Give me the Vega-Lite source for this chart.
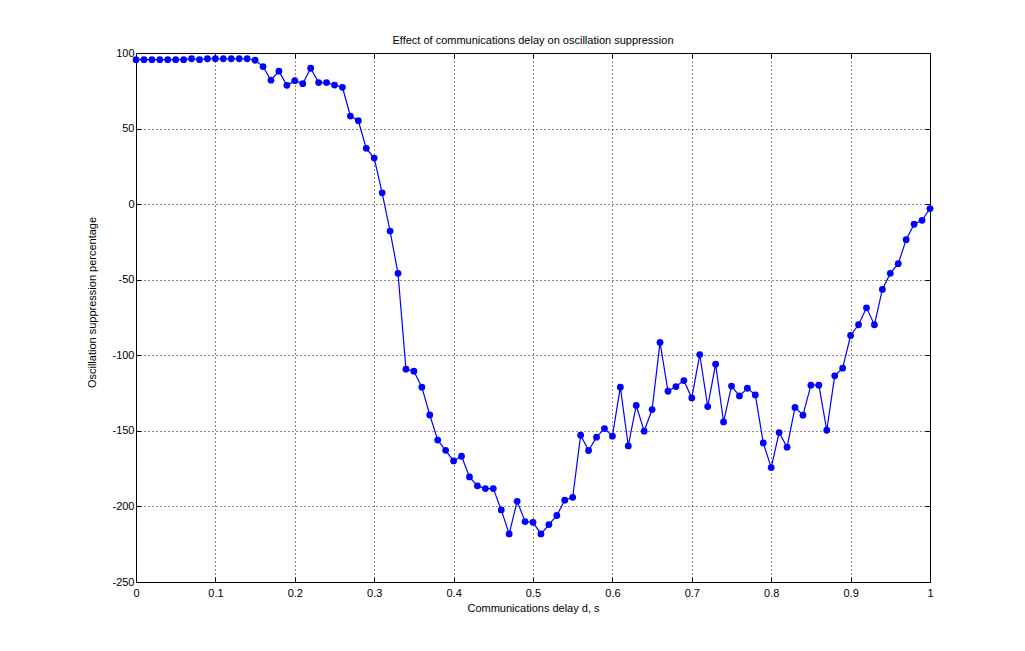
{
  "$schema": "https://vega.github.io/schema/vega-lite/v6.json",
  "width": 794,
  "height": 529,
  "autosize": {"type": "none"},
  "padding": {"left": 136, "top": 53, "right": 95, "bottom": 69},
  "background": "white",
  "title": {
    "text": "Effect of communications delay on oscillation suppression",
    "font": "Liberation Sans",
    "fontSize": 11,
    "fontWeight": "normal",
    "color": "black",
    "anchor": "middle",
    "offset": 1
  },
  "config": {
    "view": {"stroke": "black", "strokeWidth": 1},
    "axis": {
      "domainColor": "black",
      "domainWidth": 1,
      "tickColor": "black",
      "tickWidth": 1,
      "tickSize": -5,
      "labelFont": "Liberation Sans",
      "labelFontSize": 11,
      "labelColor": "black",
      "titleFont": "Liberation Sans",
      "titleFontSize": 11,
      "titleFontWeight": "normal",
      "titleColor": "black",
      "gridColor": "black",
      "gridDash": [1, 3],
      "gridOpacity": 0.9,
      "gridWidth": 1
    }
  },
  "data": {
    "values": [
      {"d": 0.00, "pct": 95.6}, {"d": 0.01, "pct": 95.6}, {"d": 0.02, "pct": 95.6},
      {"d": 0.03, "pct": 95.6}, {"d": 0.04, "pct": 95.6}, {"d": 0.05, "pct": 95.6},
      {"d": 0.06, "pct": 95.6}, {"d": 0.07, "pct": 96.2}, {"d": 0.08, "pct": 95.6},
      {"d": 0.09, "pct": 96.2}, {"d": 0.10, "pct": 96.2}, {"d": 0.11, "pct": 96.2},
      {"d": 0.12, "pct": 96.2}, {"d": 0.13, "pct": 96.2}, {"d": 0.14, "pct": 96.2},
      {"d": 0.15, "pct": 95.2}, {"d": 0.16, "pct": 91.0}, {"d": 0.17, "pct": 82.0},
      {"d": 0.18, "pct": 88.0}, {"d": 0.19, "pct": 78.6}, {"d": 0.20, "pct": 81.7},
      {"d": 0.21, "pct": 79.7}, {"d": 0.22, "pct": 89.9}, {"d": 0.23, "pct": 80.4},
      {"d": 0.24, "pct": 80.4}, {"d": 0.25, "pct": 78.8}, {"d": 0.26, "pct": 77.3},
      {"d": 0.27, "pct": 58.3}, {"d": 0.28, "pct": 55.2}, {"d": 0.29, "pct": 36.9},
      {"d": 0.30, "pct": 30.5}, {"d": 0.31, "pct": 7.5}, {"d": 0.32, "pct": -17.8},
      {"d": 0.33, "pct": -45.8}, {"d": 0.34, "pct": -109.2}, {"d": 0.35, "pct": -110.5},
      {"d": 0.36, "pct": -121.1}, {"d": 0.37, "pct": -139.5}, {"d": 0.38, "pct": -156.1},
      {"d": 0.39, "pct": -162.9}, {"d": 0.40, "pct": -169.9}, {"d": 0.41, "pct": -166.8},
      {"d": 0.42, "pct": -180.5}, {"d": 0.43, "pct": -186.4}, {"d": 0.44, "pct": -188.2},
      {"d": 0.45, "pct": -188.2}, {"d": 0.46, "pct": -202.3}, {"d": 0.47, "pct": -218.2},
      {"d": 0.48, "pct": -196.6}, {"d": 0.49, "pct": -210.0}, {"d": 0.50, "pct": -210.5},
      {"d": 0.51, "pct": -218.2}, {"d": 0.52, "pct": -212.0}, {"d": 0.53, "pct": -206.0},
      {"d": 0.54, "pct": -195.9}, {"d": 0.55, "pct": -194.0}, {"d": 0.56, "pct": -152.9},
      {"d": 0.57, "pct": -163.0}, {"d": 0.58, "pct": -154.2}, {"d": 0.59, "pct": -148.5},
      {"d": 0.60, "pct": -153.5}, {"d": 0.61, "pct": -121.1}, {"d": 0.62, "pct": -160.0},
      {"d": 0.63, "pct": -133.2}, {"d": 0.64, "pct": -150.2}, {"d": 0.65, "pct": -135.9},
      {"d": 0.66, "pct": -91.5}, {"d": 0.67, "pct": -123.8}, {"d": 0.68, "pct": -120.7},
      {"d": 0.69, "pct": -116.7}, {"d": 0.70, "pct": -128.2}, {"d": 0.71, "pct": -99.5},
      {"d": 0.72, "pct": -133.9}, {"d": 0.73, "pct": -105.9}, {"d": 0.74, "pct": -144.1},
      {"d": 0.75, "pct": -120.4}, {"d": 0.76, "pct": -126.9}, {"d": 0.77, "pct": -121.8},
      {"d": 0.78, "pct": -126.2}, {"d": 0.79, "pct": -158.0}, {"d": 0.80, "pct": -174.3},
      {"d": 0.81, "pct": -151.1}, {"d": 0.82, "pct": -160.8}, {"d": 0.83, "pct": -134.5},
      {"d": 0.84, "pct": -139.6}, {"d": 0.85, "pct": -119.8}, {"d": 0.86, "pct": -119.8},
      {"d": 0.87, "pct": -149.6}, {"d": 0.88, "pct": -113.6}, {"d": 0.89, "pct": -108.5},
      {"d": 0.90, "pct": -86.9}, {"d": 0.91, "pct": -79.8}, {"d": 0.92, "pct": -68.6},
      {"d": 0.93, "pct": -79.8}, {"d": 0.94, "pct": -56.4}, {"d": 0.95, "pct": -45.8},
      {"d": 0.96, "pct": -39.4}, {"d": 0.97, "pct": -23.5}, {"d": 0.98, "pct": -13.3},
      {"d": 0.99, "pct": -10.7}, {"d": 1.00, "pct": -2.9}
    ]
  },
  "layer": [
    {
      "mark": {"type": "line", "color": "#0000ff", "strokeWidth": 1.2},
      "encoding": {
        "x": {
          "field": "d",
          "type": "quantitative",
          "scale": {"domain": [0, 1], "nice": false, "zero": false},
          "axis": {
            "orient": "bottom",
            "values": [0, 0.1, 0.2, 0.3, 0.4, 0.5, 0.6, 0.7, 0.8, 0.9, 1],
            "labelExpr": "'' + datum.value",
            "labelPadding": 10,
            "labelFlush": false,
            "title": "Communications delay d, s",
            "titlePadding": 4,
            "grid": true
          }
        },
        "y": {
          "field": "pct",
          "type": "quantitative",
          "scale": {"domain": [-250, 100], "nice": false, "zero": false},
          "axis": {
            "orient": "left",
            "values": [-250, -200, -150, -100, -50, 0, 50, 100],
            "labelExpr": "'' + datum.value",
            "labelPadding": 7,
            "labelFlush": false,
            "title": "Oscillation suppression percentage",
            "titlePadding": 14,
            "titleY": 249,
            "grid": true
          }
        }
      }
    },
    {
      "mark": {"type": "point", "filled": true, "color": "#0000ff", "size": 46, "opacity": 1},
      "encoding": {
        "x": {
          "field": "d",
          "type": "quantitative",
          "axis": {
            "orient": "top",
            "values": [0, 0.1, 0.2, 0.3, 0.4, 0.5, 0.6, 0.7, 0.8, 0.9, 1],
            "labels": false,
            "title": null,
            "grid": false
          }
        },
        "y": {
          "field": "pct",
          "type": "quantitative",
          "axis": {
            "orient": "right",
            "values": [-250, -200, -150, -100, -50, 0, 50, 100],
            "labels": false,
            "title": null,
            "grid": false
          }
        }
      }
    }
  ],
  "resolve": {"axis": {"x": "independent", "y": "independent"}}
}
